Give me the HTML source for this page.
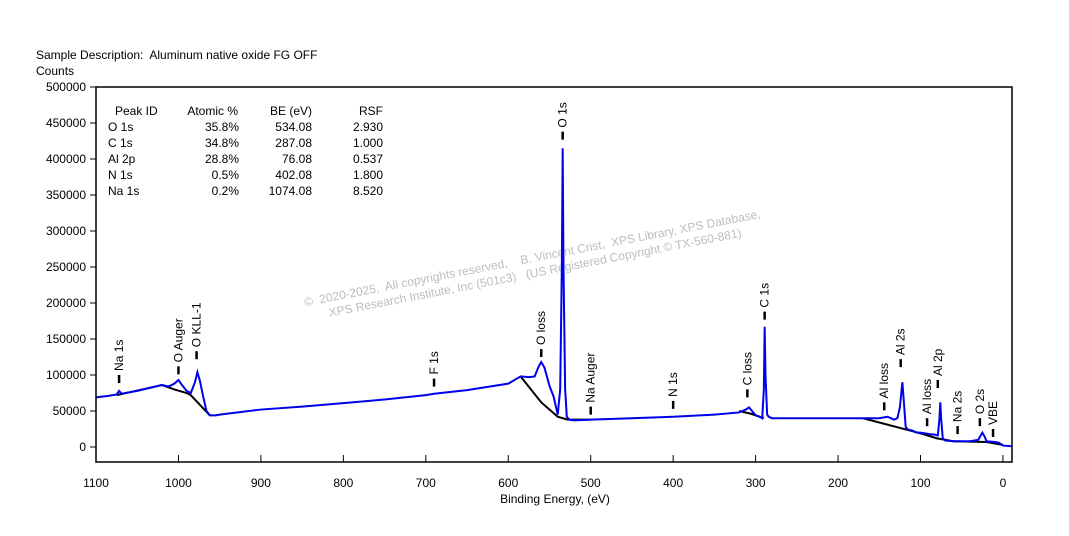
<!DOCTYPE html>
<html><head><meta charset="utf-8"><style>
body{margin:0;background:#fff;font-family:"Liberation Sans",Arial,sans-serif;}
svg{display:block}
text{font-family:"Liberation Sans",Arial,sans-serif;font-size:12px;fill:#000;white-space:pre}
</style></head><body>
<svg id="chart" width="1069" height="536" viewBox="0 0 1069 536">
<text x="36" y="59">Sample Description:  Aluminum native oxide FG OFF</text>
<text x="36" y="75">Counts</text>
<g transform="translate(533,262) rotate(-11)">
<text x="0" y="0" text-anchor="middle" style="fill:#bdbdbd">©  2020-2025,  All copyrights reserved,    B. Vincent Crist,  XPS Library, XPS Database,</text>
<text x="0" y="15" text-anchor="middle" style="fill:#bdbdbd">XPS Research Institute, Inc (501c3)   (US Registered Copyright © TX-560-881)</text>
</g>
<g>
<text x="115" y="115">Peak ID</text><text x="238" y="115" text-anchor="end">Atomic %</text><text x="312" y="115" text-anchor="end">BE (eV)</text><text x="383" y="115" text-anchor="end">RSF</text>
<text x="108" y="131">O 1s</text><text x="239" y="131" text-anchor="end">35.8%</text><text x="312" y="131" text-anchor="end">534.08</text><text x="383" y="131" text-anchor="end">2.930</text>
<text x="108" y="147">C 1s</text><text x="239" y="147" text-anchor="end">34.8%</text><text x="312" y="147" text-anchor="end">287.08</text><text x="383" y="147" text-anchor="end">1.000</text>
<text x="108" y="163">Al 2p</text><text x="239" y="163" text-anchor="end">28.8%</text><text x="312" y="163" text-anchor="end">76.08</text><text x="383" y="163" text-anchor="end">0.537</text>
<text x="108" y="179">N 1s</text><text x="239" y="179" text-anchor="end">0.5%</text><text x="312" y="179" text-anchor="end">402.08</text><text x="383" y="179" text-anchor="end">1.800</text>
<text x="108" y="195">Na 1s</text><text x="239" y="195" text-anchor="end">0.2%</text><text x="312" y="195" text-anchor="end">1074.08</text><text x="383" y="195" text-anchor="end">8.520</text>
</g>
<g id="axes"></g>
<g id="marks"></g>
<g id="labels"></g>
<rect x="96" y="87" width="916" height="375" fill="none" stroke="#000" stroke-width="1.5"/>
<text x="555" y="503" text-anchor="middle">Binding Energy, (eV)</text>
</svg>
<script>
const xTicks=[1100,1000,900,800,700,600,500,400,300,200,100,0];
const yTicks=[0,50000,100000,150000,200000,250000,300000,350000,400000,450000,500000];
const specBE=[1100,1085,1075,1072,1069,1050,1020,1012,1005,1000,995,990,985,980,977,974,970,966,962,955,950,900,850,800,750,700,690,650,600,585,575,568,563,560,556,550,545,540,537,535,534,533,531,529,526,520,500,450,400,350,320,312,308,300,295,292,290,289,288,286,284,280,250,200,170,150,145,140,136,132,128,125,122,120,118,115,110,105,100,90,82,79,77,76,75,73,70,60,50,40,30,27,25,22,20,10,5,0,-11];
const specCounts=[69000,71000,73000,78000,74000,78000,86000,84000,88000,93000,85000,78000,75000,90000,104000,92000,70000,50000,44000,44000,45000,52000,56000,61000,66000,72000,74000,79000,88000,98000,97000,98000,112000,118000,110000,85000,70000,45000,80000,250000,415000,250000,80000,42000,38000,37000,38000,40000,42000,45000,48000,52000,55000,44000,42000,40000,80000,167000,100000,45000,42000,40000,40000,40000,40000,40000,41000,42000,40000,38000,40000,55000,90000,60000,28000,24000,23000,20000,20000,18000,17000,16000,40000,62000,40000,12000,9000,8000,8000,8000,10000,16000,20000,14000,8000,7000,6000,2000,1000];
const bgBE=[1075,1020,1005,990,985,962,null,585,560,540,528,500,null,320,305,290,null,170,130,100,80,60,20,0];
const bgCounts=[72000,86000,80000,75000,72000,44000,null,98000,62000,42000,38000,38000,null,50000,46000,40000,null,40000,28000,19000,12000,8000,7000,3000];
const peakNames=["Na 1s","O Auger","O KLL-1","F 1s","O loss","O 1s","Na Auger","N 1s","C loss","C 1s","Al loss","Al 2s","Al loss","Al 2p","Na 2s","O 2s","VBE"];
const labelBE=[1072,1000,978,690,560,534,500,400,310,289,144,124,92,79,55,28,12];
const labelCounts=[82000,94000,115000,77000,118000,420000,38000,46000,62000,170000,44000,104000,22000,75000,11000,22000,7000];
const NS="http://www.w3.org/2000/svg";
function X(e){return 96+(1100-e)*0.8245;}
function Y(c){return 447-c*36/50000;}
function mk(t,a,p){const el=document.createElementNS(NS,t);for(const k in a)el.setAttribute(k,a[k]);(p||document.getElementById('marks')).appendChild(el);return el;}
const axes=document.getElementById('axes');
xTicks.forEach(v=>{
 const l=mk('line',{x1:X(v),x2:X(v),y1:455,y2:462,stroke:'#000'},axes);
 
 
 const t=mk('text',{x:X(v),y:487,'text-anchor':'middle'},axes);t.textContent=v;
 
 
});
yTicks.forEach(v=>{
 const l=mk('line',{x1:90,x2:96,y1:Y(v),y2:Y(v),stroke:'#000'},axes);
 
 
 const t=mk('text',{x:86,y:Y(v)+4,'text-anchor':'end'},axes);t.textContent=v;
 
 
});
let d='',pen=false;
bgBE.forEach((e,i)=>{
 if(e===null){pen=false;return;}
 d+=(pen?'L':'M')+X(e)+','+Y(bgCounts[i])+' ';pen=true;
});
const bg=mk('path',{d:d,fill:'none',stroke:'#000','stroke-width':2});


const sp=mk('polyline',{points:specBE.map((e,i)=>X(e)+','+Y(specCounts[i])).join(' '),fill:'none',stroke:'#0000ee','stroke-width':2});


const lg=document.getElementById('labels');
peakNames.forEach((n,i)=>{
 const x=X(labelBE[i]);const yb=Y(labelCounts[i])-5;
 const tk=mk('line',{x1:x,x2:x,y1:yb,y2:yb-8,stroke:'#000','stroke-width':2.5},lg);
 
 
 const t=mk('text',{x:0,y:0,transform:`translate(${x+4},${yb-12}) rotate(-90)`},lg);
 t.textContent=n;
 
 
});
</script>
</body></html>
